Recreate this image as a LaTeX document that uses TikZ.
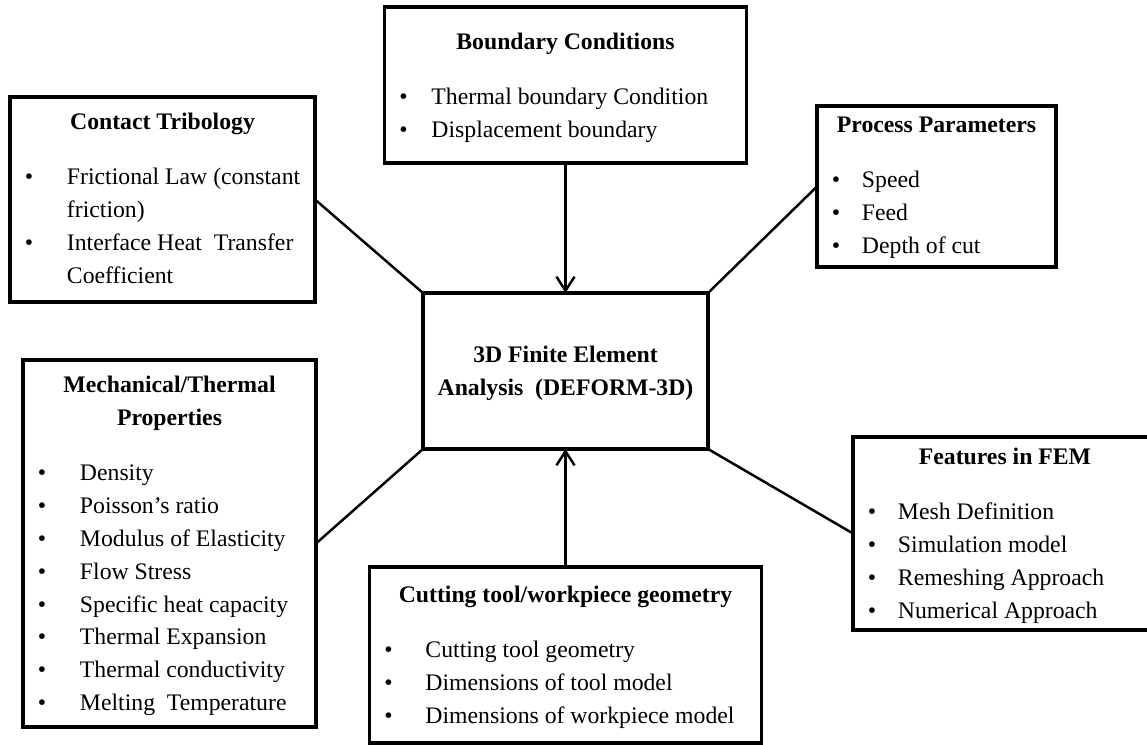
\documentclass[tikz,border=0pt]{standalone}
\usepackage{fontspec}
\setmainfont{Liberation Serif}
\usetikzlibrary{arrows.meta,positioning}
\tikzset{
  panel/.style={rectangle,draw=black,line width=2.1pt,inner sep=0pt,outer sep=0pt,
    font=\fontsize{13.5}{18.7}\selectfont},
  link/.style={line width=1.4pt},
  arrow/.style={-{Straight Barb[length=2.8mm,width=3.6mm]},line width=1.4pt}
}
% title of a panel: distance of its baseline from the top, then the text
\newcommand{\boxhead}[2]{\vspace*{\dimexpr#1-10pt\relax}%
  {\centering\bfseries\rule{0pt}{10pt}#2\par}\vspace{12.5pt}\raggedright}
% bulleted line: where the text starts, then the text
\newcommand{\boxitem}[2]{\par\hangindent=#1\hangafter=1\noindent
  \hspace*{0.30cm}\makebox[\dimexpr#1-0.30cm\relax][l]{\textbullet}#2}

\begin{document}
\begin{tikzpicture}
  \path[use as bounding box,fill=white] (-11.31,7.42) rectangle (11.63,-7.48);

  \node[panel] (core) at (0,0) {\parbox[c][3.12cm][t]{5.70cm}{%
    \vspace*{\dimexpr1.40cm-10pt\relax}\centering\bfseries
    \rule{0pt}{10pt}3D Finite Element\\Analysis\ \ (DEFORM-3D)}};

  \node[panel,above=2.6cm of core] (bc) {\parbox[c][3.12cm][t]{7.24cm}{%
    \boxhead{0.86cm}{Boundary Conditions}
    \boxitem{0.94cm}{Thermal boundary Condition}
    \boxitem{0.94cm}{Displacement boundary}}};

  \node[panel,below=2.36cm of core] (tool) {\parbox[c][3.52cm][t]{7.84cm}{%
    \boxhead{0.72cm}{Cutting tool/workpiece geometry}
    \boxitem{1.12cm}{Cutting tool geometry}
    \boxitem{1.12cm}{Dimensions of tool model}
    \boxitem{1.12cm}{Dimensions of workpiece model}}};

  \node[panel,left=2.16cm of core.north west,yshift=1.87cm] (contact) {\parbox[c][4.10cm][t]{6.10cm}{%
    \boxhead{0.66cm}{Contact Tribology}
    \boxitem{1.14cm}{Frictional Law (constant\newline friction)}
    \boxitem{1.14cm}{Interface Heat\ \ Transfer\newline Coefficient}}};

  \node[panel,right=2.18cm of core.north east,yshift=2.13cm] (process) {\parbox[c][3.22cm][t]{4.78cm}{%
    \boxhead{0.54cm}{Process Parameters}
    \boxitem{0.90cm}{Speed}
    \boxitem{0.90cm}{Feed}
    \boxitem{0.90cm}{Depth of cut}}};

  \node[panel,left=2.14cm of core.south west,yshift=-1.89cm] (mech) {\parbox[c][7.34cm][t]{5.86cm}{%
    \boxhead{0.66cm}{Mechanical/Thermal\\Properties}
    \boxitem{1.14cm}{Density}
    \boxitem{1.14cm}{Poisson's ratio}
    \boxitem{1.14cm}{Modulus of Elasticity}
    \boxitem{1.14cm}{Flow Stress}
    \boxitem{1.14cm}{Specific heat capacity}
    \boxitem{1.14cm}{Thermal Expansion}
    \boxitem{1.14cm}{Thermal conductivity}
    \boxitem{1.14cm}{Melting\ \ Temperature}}};

  \node[panel,right=2.9cm of core.south east,yshift=-1.69cm] (feat) {\parbox[c][3.86cm][t]{6.08cm}{%
    \boxhead{0.56cm}{Features in FEM}
    \boxitem{0.90cm}{Mesh Definition}
    \boxitem{0.90cm}{Simulation model}
    \boxitem{0.90cm}{Remeshing Approach}
    \boxitem{0.90cm}{Numerical Approach}}};

  \draw[arrow] (bc.south -| core) -- (core.north);
  \draw[arrow] (tool.north -| core) -- (core.south);
  \draw[link] (contact.east) -- (core.north west);
  \draw[link] (process.west) -- (core.north east);
  \draw[link] (mech.east) -- (core.south west);
  \draw[link] (feat.west) -- (core.south east);
\end{tikzpicture}
\end{document}
